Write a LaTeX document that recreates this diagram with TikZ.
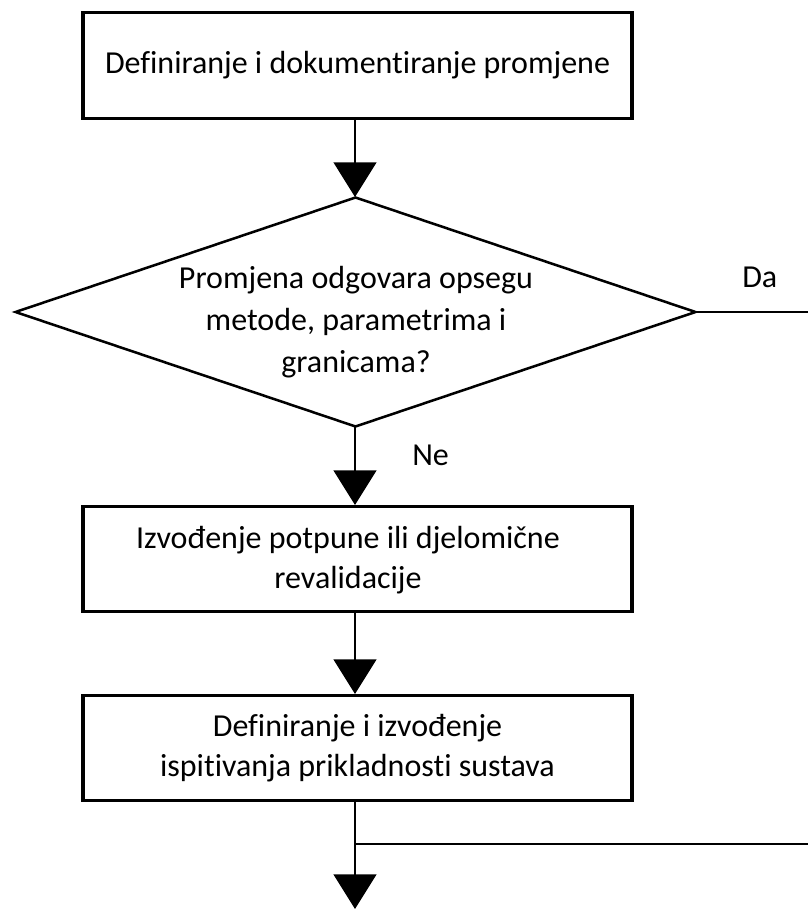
\documentclass[tikz,border=0pt]{standalone}
\usepackage{fontspec}
\setmainfont{Carlito}[Ligatures=NoCommon]
\usetikzlibrary{shapes.geometric,arrows.meta}
\begin{document}
\begin{tikzpicture}[x=0.75pt,y=-0.75pt,
  font=\fontsize{24}{30}\selectfont,
  procbox/.style={draw, line width=2.3pt, minimum width=411.75pt, minimum height=79pt, inner sep=0pt, align=center},
  decision/.style={draw, diamond, line width=1.9pt, minimum width=510.75pt, minimum height=172.5pt, inner sep=0pt},
  flow/.style={line width=1.9pt, -{Triangle[width=32pt,length=26pt]}},
  plain/.style={line width=1.9pt},
  lbl/.style={inner sep=0pt}]
\useasboundingbox (0,0) rectangle (808,909);
\node[procbox] (b1) at (357.5,65.5) {Definiranje i dokumentiranje promjene};
\node[decision] (d) at (355.5,312) {};
\node[align=center, font=\fontsize{24}{31.5}\selectfont] (dt) at (356,322) {Promjena odgovara opsegu\\metode, parametrima i\\granicama?};
\node[procbox] (b2) at (357.5,559) {};
\node[align=center] (b2t) at (348,560) {Izvođenje potpune ili djelomične\\revalidacije};
\node[procbox] (b3) at (357.5,748) {Definiranje i izvođenje\\ispitivanja prikladnosti sustava};
\coordinate (b1s) at (355,118);
\coordinate (dtop) at (355,197);
\coordinate (dbot) at (355,427);
\coordinate (b2n) at (355,505);
\coordinate (b2s) at (355,613);
\coordinate (b3n) at (355,694);
\coordinate (b3s) at (355,802);
\coordinate (daend) at (808,312);
\coordinate (j) at (355,844);
\coordinate (jr) at (808,844);
\coordinate (endp) at (355,909);
\draw[flow] (b1s) -- (dtop);
\draw[plain] (d.east) -- (daend);
\node[lbl, anchor=west] (da) at (742,277) {Da};
\draw[flow] (dbot) -- (b2n);
\node[lbl, anchor=west] (ne) at (412,455) {Ne};
\draw[flow] (b2s) -- (b3n);
\draw[flow] (b3s) -- (endp);
\draw[plain] (j) -- (jr);
\end{tikzpicture}
\end{document}
